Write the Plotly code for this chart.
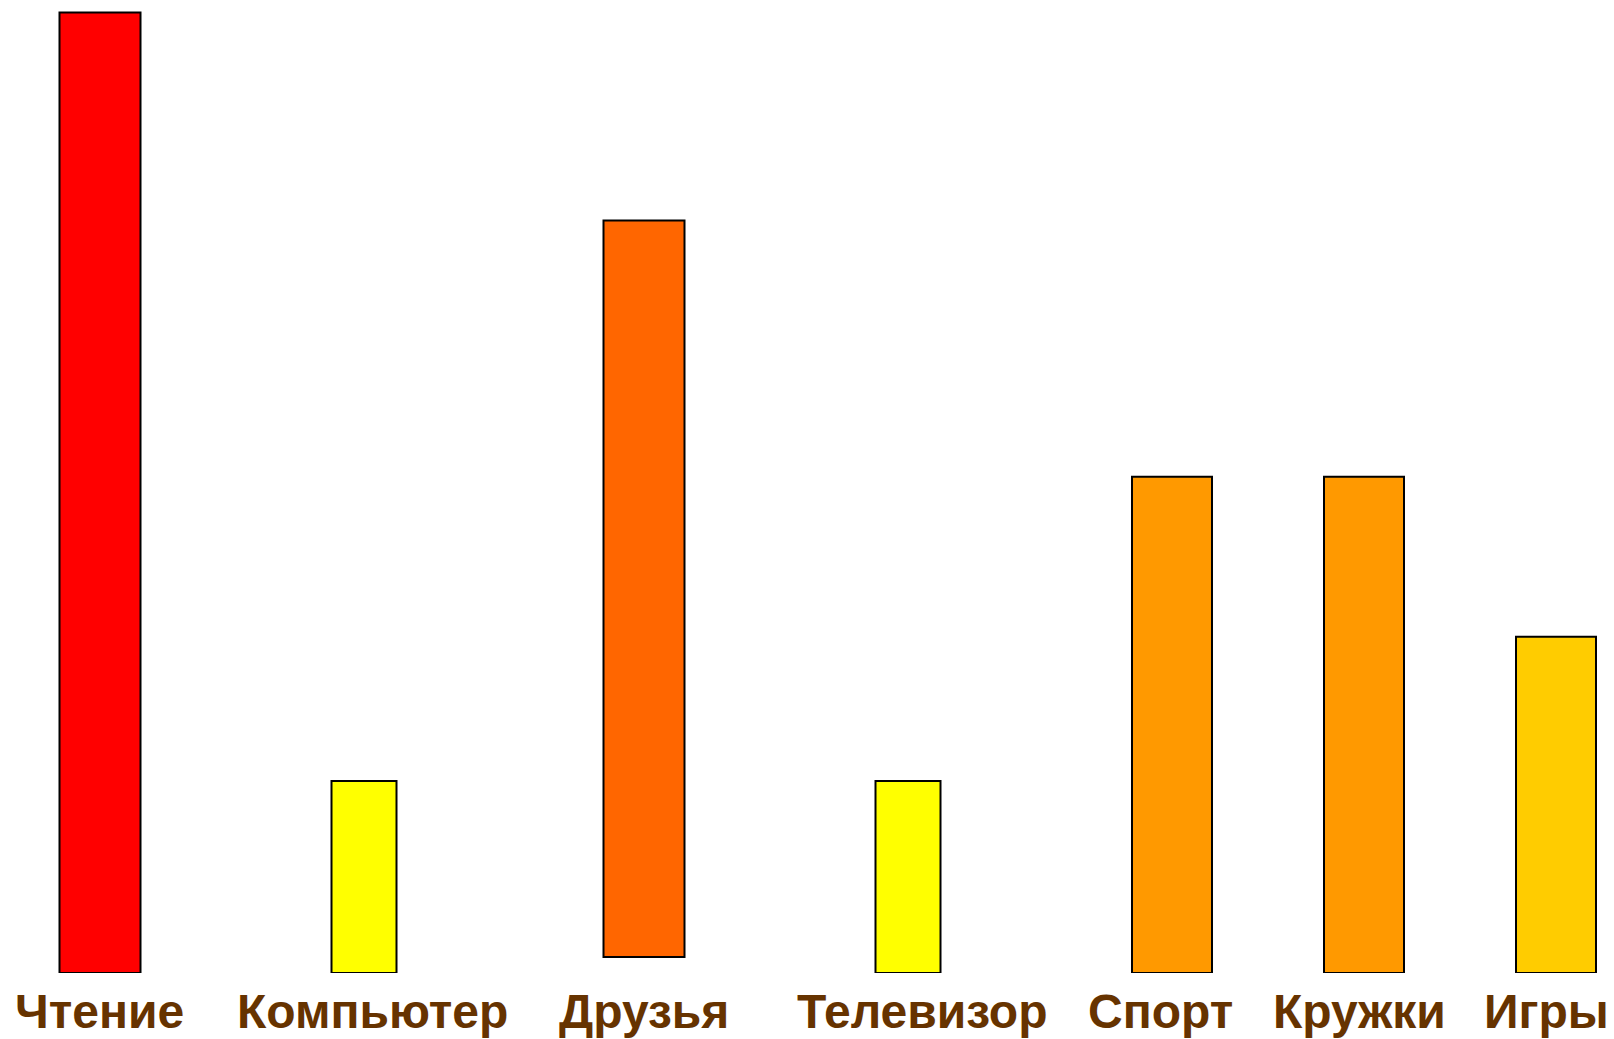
import plotly.graph_objects as go

categories = ["Чтение", "Компьютер", "Друзья", "Телевизор", "Спорт", "Кружки", "Игры"]
values = [60, 12, 47, 12, 31, 31, 21]
colors = ["#FF0000", "#FFFF00", "#FF6600", "#FFFF00", "#FF9900", "#FF9900", "#FFCC00"]

# layout (pixel-like x axis units)
bar_x = [100, 364, 644, 908, 1172, 1364, 1556]
bar_w = [81, 65, 81, 65, 80, 80, 80]
bar_base = [0, 0, 1, 0, 0, 0, 0]
label_x = [99, 372, 644, 922, 1160, 1359, 1546]

W, H = 1614, 1039
plot_h = 973.5
unit = 16.0

fig = go.Figure()
fig.add_trace(go.Bar(
    x=bar_x,
    y=[v - b for v, b in zip(values, bar_base)],
    base=bar_base,
    width=bar_w,
    marker=dict(color=colors, line=dict(color="#000000", width=2)),
    hoverinfo="skip",
))

for lx, name in zip(label_x, categories):
    fig.add_annotation(
        x=lx, y=(plot_h - 1012) / plot_h, xref="x", yref="paper",
        text="<b>" + name + "</b>", showarrow=False,
        xanchor="center", yanchor="middle",
        font=dict(family="Liberation Sans, Arial, sans-serif", size=48, color="#663300"),
    )

fig.update_layout(
    width=W, height=H,
    margin=dict(l=0, r=0, t=0, b=H - plot_h, pad=0),
    paper_bgcolor="white", plot_bgcolor="white",
    showlegend=False,
    xaxis=dict(range=[0, W], visible=False, fixedrange=True),
    yaxis=dict(range=[0, (plot_h - 1) / unit], visible=False, fixedrange=True),
)

fig.write_html(
    "out.html",
    config={"displayModeBar": False},
    post_script="document.body.style.margin='0';document.documentElement.style.overflow='hidden';",
)
